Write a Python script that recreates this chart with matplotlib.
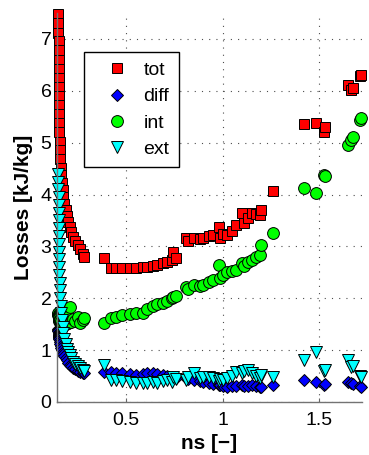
import numpy as np
import matplotlib.pyplot as plt

plt.rcParams['font.family'] = ['Liberation Sans', 'DejaVu Sans']

# operating points (ns) and the loss components
ns = [0.150, 0.150, 0.150, 0.151, 0.151, 0.151, 0.152, 0.152, 0.152, 0.153,
      0.153, 0.154, 0.154, 0.155, 0.156, 0.158, 0.160, 0.162, 0.165, 0.168,
      0.172, 0.176, 0.181, 0.187, 0.193, 0.200, 0.208, 0.217, 0.227, 0.238,
      0.250, 0.262, 0.275, 0.282,
      0.385, 0.42, 0.45, 0.48, 0.52, 0.55, 0.59, 0.61, 0.64, 0.66,
      0.69, 0.71, 0.74, 0.745, 0.76, 0.81, 0.82, 0.85, 0.88, 0.90,
      0.93, 0.95, 0.98, 0.985, 1.00, 1.02, 1.05, 1.07, 1.10, 1.11,
      1.13, 1.15, 1.17, 1.19, 1.20, 1.26,
      1.42, 1.48, 1.525, 1.53, 1.645, 1.665, 1.675, 1.71, 1.715]

tot = [7.48, 7.30, 7.12, 6.95, 6.78, 6.60, 6.42, 6.25, 6.08, 5.90,
       5.72, 5.55, 5.38, 5.20, 5.02, 4.85, 4.68, 4.52, 4.38, 4.22,
       4.08, 3.95, 3.82, 3.70, 3.58, 3.47, 3.37, 3.27, 3.18, 3.10,
       3.02, 2.94, 2.86, 2.80,
       2.78, 2.59, 2.58, 2.59, 2.58, 2.59, 2.60, 2.61, 2.63, 2.65,
       2.68, 2.70, 2.74, 2.90, 2.78, 3.16, 3.10, 3.16, 3.15, 3.16,
       3.20, 3.22, 3.38, 3.16, 3.24, 3.22, 3.30, 3.42, 3.65, 3.45,
       3.55, 3.65, 3.62, 3.60, 3.70, 4.07,
       5.35, 5.38, 5.20, 5.30, 6.12, 6.02, 6.05, 6.28, 6.30]

diff = [1.40, 1.38, 1.36, 1.35, 1.33, 1.32, 1.30, 1.29, 1.28, 1.27,
        1.26, 1.25, 1.24, 1.22, 1.20, 1.16, 1.12, 1.08, 1.04, 1.00,
        0.96, 0.92, 0.88, 0.84, 0.80, 0.76, 0.72, 0.69, 0.66, 0.63,
        0.60, 0.58, 0.56, 0.55,
        0.58, 0.57, 0.56, 0.56, 0.54, 0.52, 0.54, 0.56, 0.55, 0.54,
        0.52, 0.50, 0.48, 0.47, 0.46, 0.46, 0.45, 0.42, 0.40, 0.38,
        0.36, 0.34, 0.33, 0.32, 0.30, 0.29, 0.31, 0.30, 0.33, 0.31,
        0.30, 0.32, 0.30, 0.29, 0.29, 0.33,
        0.42, 0.39, 0.33, 0.34, 0.39, 0.36, 0.34, 0.30, 0.29]

inte = [1.70, 1.68, 1.72, 1.66, 1.70, 1.64, 1.68, 1.62, 1.66, 1.60,
        1.64, 1.58, 1.62, 1.56, 1.60, 1.55, 1.58, 1.52, 1.56, 1.50,
        1.54, 1.50, 1.55, 1.50, 1.64, 1.52, 1.84, 1.54, 1.60, 1.56,
        1.64, 1.52, 1.58, 1.62,
        1.52, 1.62, 1.64, 1.68, 1.70, 1.72, 1.72, 1.80, 1.85, 1.88,
        1.91, 1.94, 2.00, 2.03, 2.05, 2.22, 2.18, 2.26, 2.24, 2.26,
        2.32, 2.36, 2.64, 2.40, 2.45, 2.50, 2.52, 2.55, 2.68, 2.62,
        2.70, 2.74, 2.80, 2.84, 3.03, 3.26,
        4.13, 4.03, 4.38, 4.35, 4.96, 5.06, 5.10, 5.44, 5.48]

ext = [4.40, 4.25, 4.10, 3.95, 3.80, 3.65, 3.50, 3.35, 3.20, 3.05,
       2.90, 2.75, 2.60, 2.45, 2.30, 2.15, 2.00, 1.86, 1.72, 1.58,
       1.45, 1.33, 1.22, 1.12, 1.03, 0.96, 0.90, 0.84, 0.78, 0.73,
       0.69, 0.65, 0.62, 0.60,
       0.71, 0.42, 0.42, 0.40, 0.39, 0.37, 0.37, 0.37, 0.38, 0.37,
       0.40, 0.42, 0.39, 0.48, 0.44, 0.42, 0.48, 0.56, 0.46, 0.48,
       0.48, 0.46, 0.40, 0.44, 0.42, 0.46, 0.50, 0.58, 0.55, 0.60,
       0.62, 0.56, 0.50, 0.46, 0.52, 0.48,
       0.81, 0.97, 0.60, 0.62, 0.81, 0.67, 0.70, 0.50, 0.48]

fig = plt.figure(figsize=(3.69, 4.55), dpi=100)
ax = fig.add_axes([0.1545, 0.1165, 0.8266, 0.855])

ec = dict(markeredgecolor='k', markeredgewidth=0.7, linestyle='none', clip_on=False)
ax.plot(ns, tot, 's', color='#ff0000', markersize=7.5, label='tot', **ec)
ax.plot(ns, diff, 'D', color='#0000ff', markersize=6.5, label='diff', **ec)
ax.plot(ns, inte, 'o', color='#00ff00', markersize=8.5, label='int', **ec)
ax.plot(ns, ext, 'v', color='#00ffff', markersize=9, label='ext', **ec)

ax.set_xlim(0.143, 1.72)
ax.set_ylim(0, 7.5)
ax.set_xticks([0.5, 1, 1.5])
ax.set_xticklabels(['0.5', '1', '1.5'])
ax.set_yticks(range(8))
ax.tick_params(direction='in', labelsize=14, length=3, color='0.4')
ax.tick_params(axis='x', pad=7)
ax.tick_params(axis='y', pad=4)
ax.grid(True, color='0.3', linestyle=(0, (1, 5.5)), linewidth=0.8)
for s in ['top', 'right']:
    ax.spines[s].set_visible(False)
for s in ['left', 'bottom']:
    ax.spines[s].set_color('0.45')
    ax.spines[s].set_linewidth(1.0)

ax.set_xlabel('ns [\u2212]', fontsize=15, fontweight='bold')
ax.set_ylabel('Losses [kJ/kg]', fontsize=15, fontweight='bold')
ax.xaxis.set_label_coords(0.5, -0.083)
ax.yaxis.set_label_coords(-0.08, 0.5)

leg = ax.legend(loc='upper left', bbox_to_anchor=(0.0885, 0.90), borderaxespad=0,
                fontsize=14, frameon=True, fancybox=False, edgecolor='k',
                framealpha=1, labelspacing=0.44, handletextpad=0.15,
                borderpad=0.5, handlelength=2.4)
leg.get_frame().set_linewidth(1.0)

plt.savefig('out.png', dpi=100)
